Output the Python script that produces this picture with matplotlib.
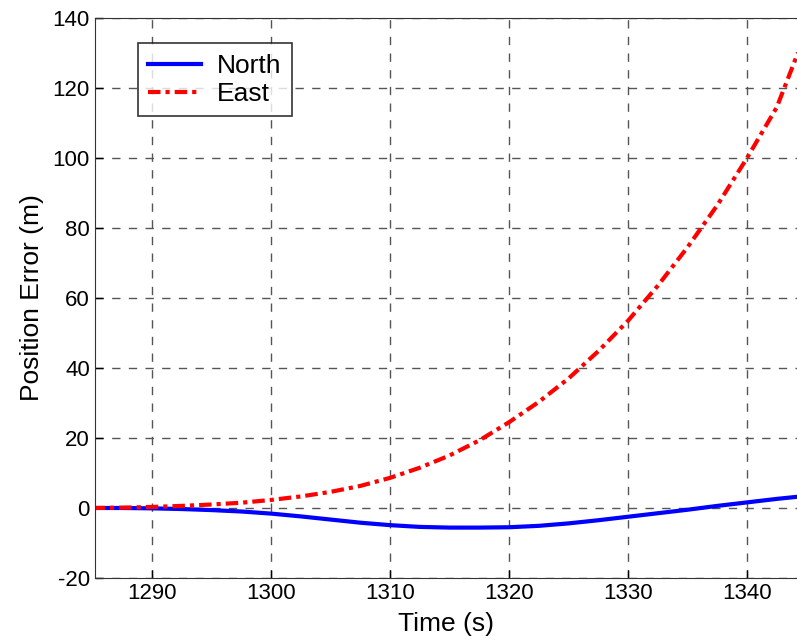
import numpy as np
import matplotlib.pyplot as plt

plt.rcParams['font.family'] = ['Liberation Sans', 'DejaVu Sans']
plt.rcParams['axes.unicode_minus'] = False

# values
time = [1285, 1287.5, 1290, 1292.5, 1295, 1297.5, 1300, 1302.5, 1305, 1307.5,
        1310, 1312.5, 1315, 1317.5, 1320, 1322.5, 1325, 1327.5, 1330, 1332.5,
        1335, 1337.5, 1340, 1342.5, 1344.5]
north = [0.0, 0.0, -0.1, -0.3, -0.6, -1.0, -1.6, -2.4, -3.3, -4.2,
         -4.9, -5.4, -5.6, -5.6, -5.5, -5.1, -4.4, -3.5, -2.5, -1.5,
         -0.5, 0.6, 1.6, 2.6, 3.3]
east = [0.0, 0.1, 0.3, 0.6, 1.0, 1.5, 2.3, 3.3, 4.6, 6.3,
        8.6, 11.5, 15.0, 19.3, 24.5, 30.3, 37.0, 44.8, 53.5, 63.5,
        74.5, 86.5, 100.0, 114.5, 132.0]

fig = plt.figure(figsize=(7.97, 6.44), dpi=100)
ax = fig.add_axes([0.119, 0.1025, 0.881, 0.8695])

ax.plot(time, north, color='blue', lw=3, label='North')
ax.plot(time, east, color='red', lw=3, linestyle=(0, (3, 1.2, 1, 1.2)), label='East')

ax.set_xlim(1285.2, 1344.2)
ax.set_ylim(-20, 140)
ax.set_xticks(np.arange(1290, 1341, 10))
ax.set_yticks(np.arange(-20, 141, 20))
ax.tick_params(direction='in', labelsize=16, length=6, width=1)
ax.grid(True, color='#555555', linestyle=(0, (6, 6)), linewidth=1)
ax.spines['right'].set_visible(False)
for s in ['left', 'bottom', 'top']:
    ax.spines[s].set_color('#333333')

ax.set_xlabel('Time (s)', fontsize=19, labelpad=6)
ax.set_ylabel('Position Error (m)', fontsize=19, labelpad=6)

leg = ax.legend(loc='upper left', bbox_to_anchor=(0.061, 0.955), fontsize=19,
                frameon=True, fancybox=False, edgecolor='black',
                borderaxespad=0, handlelength=2.0, handletextpad=0.6,
                borderpad=0.4, labelspacing=0.15)
leg.get_frame().set_linewidth(1.2)

fig.savefig('out.png', dpi=100)
